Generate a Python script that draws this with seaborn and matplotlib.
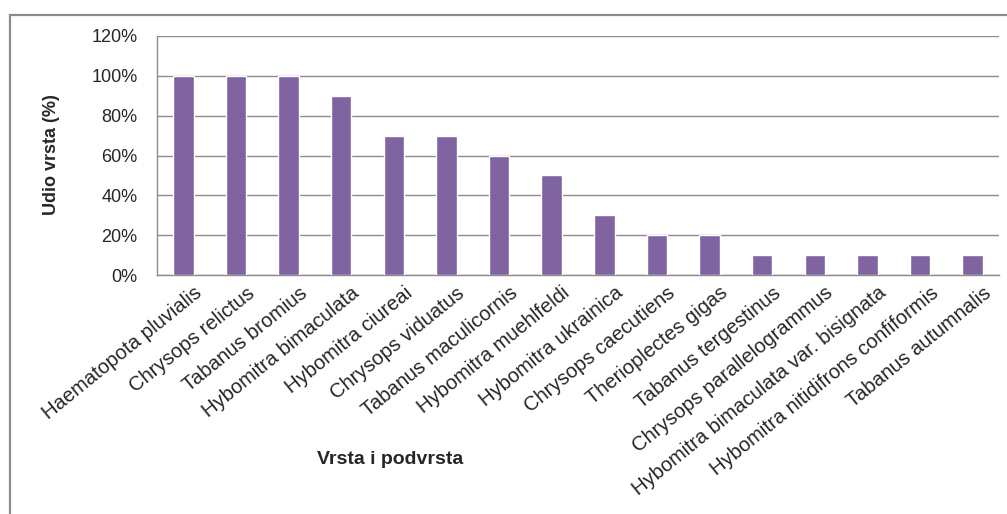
import matplotlib.pyplot as plt
import matplotlib.transforms as mtransforms
import numpy as np
import pandas as pd
import seaborn as sns
from matplotlib.patches import Rectangle
from matplotlib.ticker import PercentFormatter

species = [
    "Haematopota pluvialis",
    "Chrysops relictus",
    "Tabanus bromius",
    "Hybomitra bimaculata",
    "Hybomitra ciureai",
    "Chrysops viduatus",
    "Tabanus maculicornis",
    "Hybomitra muehlfeldi",
    "Hybomitra ukrainica",
    "Chrysops caecutiens",
    "Therioplectes gigas",
    "Tabanus tergestinus",
    "Chrysops parallelogrammus",
    "Hybomitra bimaculata var. bisignata",
    "Hybomitra nitidifrons confiformis",
    "Tabanus autumnalis",
]
share = [100, 100, 100, 90, 70, 70, 60, 50, 30, 20, 20, 10, 10, 10, 10, 10]

y_ticks = [0, 20, 40, 60, 80, 100, 120]


def plot_share(save_path):
    sns.set_style("white")
    plt.rcParams["font.family"] = ["Liberation Sans", "DejaVu Sans"]

    df = pd.DataFrame({"vrsta": species, "udio": share})

    fig = plt.figure(figsize=(10.07, 5.14), dpi=100)
    ax = fig.add_axes([157 / 1007, 1 - 275 / 514, (999 - 157) / 1007, (275 - 36) / 514])

    sns.barplot(data=df, x="vrsta", y="udio", color="#8064A2", saturation=1,
                width=0.39, ax=ax, zorder=3)

    ax.set_ylim(0, 120)
    ax.set_yticks(y_ticks)
    ax.yaxis.set_major_formatter(PercentFormatter(decimals=0))
    ax.grid(axis="y", color="#8c8c8c", linewidth=1.0, zorder=0)
    ax.set_axisbelow(True)

    for side in ["top", "right"]:
        ax.spines[side].set_visible(False)
    for side in ["left", "bottom"]:
        ax.spines[side].set_color("#8c8c8c")
        ax.spines[side].set_linewidth(1.0)

    ax.tick_params(axis="both", length=0)
    ax.tick_params(axis="y", labelsize=13, pad=14, labelcolor="#262626")
    ax.tick_params(axis="x", labelsize=14.5, pad=6)
    ax.set_xlabel("")
    ax.set_ylabel("")

    offset = mtransforms.ScaledTranslation(10 / 100, 0, fig.dpi_scale_trans)
    for lbl in ax.get_xticklabels():
        lbl.set_rotation(39)
        lbl.set_ha("right")
        lbl.set_va("top")
        lbl.set_rotation_mode("anchor")
        lbl.set_transform(lbl.get_transform() + offset)

    fig.text(52 / 1007, 1 - 155 / 514, "Udio vrsta (%)", rotation=90,
             ha="center", va="center", fontsize=13, fontweight="bold")
    fig.text(390 / 1007, 1 - 460 / 514, "Vrsta i podvrsta",
             ha="center", va="center", fontsize=14, fontweight="bold")

    # outer chart border, as in the spreadsheet export
    fig.patches.append(Rectangle((10 / 1007, -0.2), 1.2, 0.2 + (514 - 15) / 514,
                                 transform=fig.transFigure, fill=False,
                                 edgecolor="#8c8c8c", linewidth=1.6))

    fig.savefig(save_path, dpi=100)
    plt.close(fig)


if __name__ == "__main__":
    plot_share("out.png")
